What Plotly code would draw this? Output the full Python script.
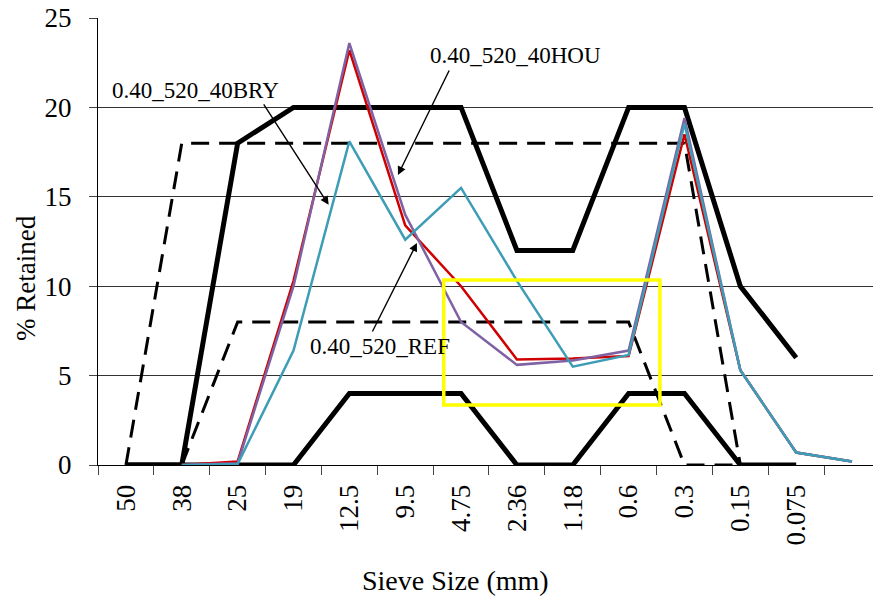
import plotly.graph_objects as go

# Sieve sizes (mm); the last position is the pan and carries no label
sieves = ["50", "38", "25", "19", "12.5", "9.5", "4.75", "2.36", "1.18",
          "0.6", "0.3", "0.15", "0.075", ""]
pos = list(range(len(sieves)))

# Specification bands (% retained)
upper_limit = [0, 0, 18, 20, 20, 20, 20, 12, 12, 20, 20, 10, 6]
lower_limit = [0, 0, 0, 0, 4, 4, 4, 0, 0, 4, 4, 0, 0]
outer_dashed = [0, 18, 18, 18, 18, 18, 18, 18, 18, 18, 18, 0]
inner_dashed = [0, 0, 8, 8, 8, 8, 8, 8, 8, 8, 0, 0]

# Mix gradations (% retained)
ref_mix = [None, 0, 0.2, 10.3, 23.2, 13.4, 10.0, 5.9, 5.95, 6.1, 18.5, 5.3, 0.7, 0.2]
hou_mix = [None, 0, 0.1, 10.0, 23.6, 14.0, 8.0, 5.6, 5.85, 6.4, 19.4, 5.3, 0.7, 0.2]
bry_mix = [None, 0, 0.05, 6.4, 18.1, 12.6, 15.5, 10.3, 5.5, 6.15, 19.1, 5.3, 0.7, 0.2]

FONT = "Liberation Serif"
W, H = 873, 598
L, R, T, B = 98, 0, 18, 133          # plot margins (px)
PW, PH = W - L - R, H - T - B          # plot area size (px)

fig = go.Figure()

for ys in (outer_dashed, inner_dashed):
    fig.add_trace(go.Scatter(x=pos[:len(ys)], y=ys, mode="lines",
                             line=dict(color="black", width=3, dash="18px,10px"),
                             showlegend=False, hoverinfo="skip"))
for ys in (upper_limit, lower_limit):
    fig.add_trace(go.Scatter(x=pos[:len(ys)], y=ys, mode="lines",
                             line=dict(color="black", width=5),
                             showlegend=False, hoverinfo="skip"))

fig.add_trace(go.Scatter(x=pos, y=ref_mix, mode="lines", name="0.40_520_REF",
                         line=dict(color="#D00000", width=2.5), showlegend=False))
fig.add_trace(go.Scatter(x=pos, y=hou_mix, mode="lines", name="0.40_520_40HOU",
                         line=dict(color="#7F62A4", width=2.5), showlegend=False))
fig.add_trace(go.Scatter(x=pos, y=bry_mix, mode="lines", name="0.40_520_40BRY",
                         line=dict(color="#3E9DB6", width=2.5), showlegend=False))

# Highlight box around the fine-sieve region
fig.add_shape(type="rect", xref="x", yref="y", x0=5.69, x1=9.56, y0=3.36, y1=10.35,
              line=dict(color="#FFFF00", width=3.5), layer="above")

# Series labels with leader arrows
labels = [
    dict(text="0.40_520_40BRY", x=1.24, y=20.97, xanchor="center",
         tail=(2.45, 20.25), head=(3.63, 14.55)),
    dict(text="0.40_520_40HOU", x=6.97, y=22.93, xanchor="center",
         tail=(5.80, 22.15), head=(4.87, 16.22)),
    dict(text="0.40_520_REF", x=3.26, y=6.6, xanchor="left",
         tail=(4.40, 7.38), head=(5.21, 12.42)),
]
for lab in labels:
    fig.add_annotation(x=lab["x"], y=lab["y"], xref="x", yref="y", text=lab["text"],
                       showarrow=False, xanchor=lab["xanchor"], yanchor="middle",
                       font=dict(family=FONT, size=23, color="black"))
    fig.add_annotation(x=lab["head"][0], y=lab["head"][1], xref="x", yref="y",
                       ax=lab["tail"][0], ay=lab["tail"][1], axref="x", ayref="y",
                       text="", showarrow=True, arrowhead=2, arrowsize=1.2,
                       arrowwidth=1.4, arrowcolor="black", standoff=0, startstandoff=0)

# Axis titles, positioned in plot-area paper coordinates
fig.add_annotation(x=(455 - L) / PW, y=-(580 - (T + PH)) / PH, xref="paper", yref="paper",
                   text="Sieve Size (mm)", showarrow=False,
                   xanchor="center", yanchor="middle",
                   font=dict(family=FONT, size=28, color="black"))
fig.add_annotation(x=-(L - 26) / PW, y=(T + PH - 278) / PH, xref="paper", yref="paper",
                   text="% Retained", textangle=-90, showarrow=False,
                   xanchor="center", yanchor="middle",
                   font=dict(family=FONT, size=27, color="black"))

fig.update_layout(
    width=W, height=H,
    margin=dict(l=L, r=R, t=T, b=B, pad=0),
    plot_bgcolor="white", paper_bgcolor="white",
    font=dict(family=FONT, size=27, color="black"),
)
fig.update_xaxes(
    range=[-0.5, 13.375], tickmode="array", tickvals=pos[:-1], ticktext=sieves[:-1],
    tickangle=-90, ticks="", showgrid=False, zeroline=False,
    showline=True, linecolor="black", linewidth=1,
    ticklabelstandoff=8,
    minor=dict(tickmode="array", tickvals=[p - 0.5 for p in pos], ticks="outside",
               ticklen=9, tickcolor="#444", tickwidth=1, showgrid=False),
    tickfont=dict(family=FONT, size=27, color="black"),
)
fig.update_yaxes(
    range=[0, 25], tickmode="linear", tick0=0, dtick=5,
    ticks="outside", ticklen=8, tickcolor="#444", tickwidth=1,
    showgrid=True, gridcolor="#333", gridwidth=1, zeroline=False,
    showline=True, linecolor="black", linewidth=1,
    ticklabelstandoff=12,
    tickfont=dict(family=FONT, size=27, color="black"),
)

fig.write_html("out.html")
